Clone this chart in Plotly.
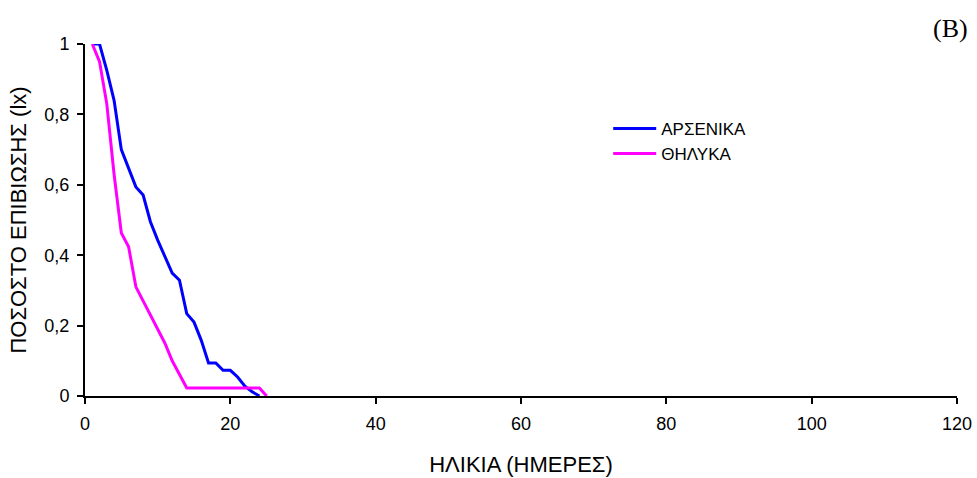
import plotly.graph_objects as go

days_m = list(range(1, 25))
males = [1.0, 1.0, 0.925, 0.84, 0.70, 0.645, 0.594, 0.571, 0.495, 0.443, 0.397, 0.349, 0.329,
         0.234, 0.21, 0.158, 0.094, 0.094, 0.073, 0.073, 0.054, 0.028, 0.012, 0.0]
days_f = list(range(1, 26))
females = [1.0, 0.95, 0.83, 0.63, 0.463, 0.424, 0.31, 0.27, 0.23, 0.19, 0.15, 0.10, 0.06,
           0.023, 0.023, 0.023, 0.023, 0.023, 0.023, 0.023, 0.023, 0.023, 0.023, 0.023, 0.0]

font = "Liberation Sans, Arial, sans-serif"

fig = go.Figure()
fig.add_trace(go.Scatter(x=days_m, y=males, mode="lines", name="ΑΡΣΕΝΙΚΑ",
                         line=dict(color="#0000FF", width=3)))
fig.add_trace(go.Scatter(x=days_f, y=females, mode="lines", name="ΘΗΛΥΚΑ",
                         line=dict(color="#FF00FF", width=3)))

fig.update_layout(
    width=977, height=478,
    margin=dict(l=85, r=20, t=44, b=82, autoexpand=False),
    paper_bgcolor="white", plot_bgcolor="white",
    separators=",.",
    font=dict(family=font, size=18, color="black"),
    showlegend=True,
    legend=dict(x=0.6, y=0.81, xanchor="left", yanchor="top",
                font=dict(family=font, size=17, color="black"),
                bgcolor="rgba(0,0,0,0)", tracegroupgap=0, itemwidth=43),
    xaxis=dict(range=[0, 120], dtick=20, tick0=0, showline=True, linecolor="black",
               linewidth=2, ticks="outside", ticklen=6, tickcolor="black", tickwidth=1.5,
               ticklabelstandoff=4,
               showgrid=False, zeroline=False, automargin=False,
               title=dict(text="ΗΛΙΚΙΑ (ΗΜΕΡΕΣ)", font=dict(size=22), standoff=24)),
    yaxis=dict(range=[0, 1], dtick=0.2, tick0=0, showline=True, linecolor="black",
               linewidth=2, ticks="outside", ticklen=6, tickcolor="black", tickwidth=1.5,
               ticklabelstandoff=4,
               showgrid=False, zeroline=False, automargin=False,
               title=dict(text="ΠΟΣΟΣΤΟ ΕΠΙΒΙΩΣΗΣ (lx)", font=dict(size=22), standoff=12)),
)
fig.add_annotation(text="(B)", x=(950 - 85) / 872, y=(396 - 29) / 352, xref="paper", yref="paper",
                   xanchor="center", yanchor="middle", showarrow=False,
                   font=dict(family="Liberation Serif, Times New Roman, serif", size=26, color="black"))

fig.write_html("out.html", config={"displayModeBar": False},
               post_script="document.body.style.margin='0';document.body.style.overflow='hidden';")
